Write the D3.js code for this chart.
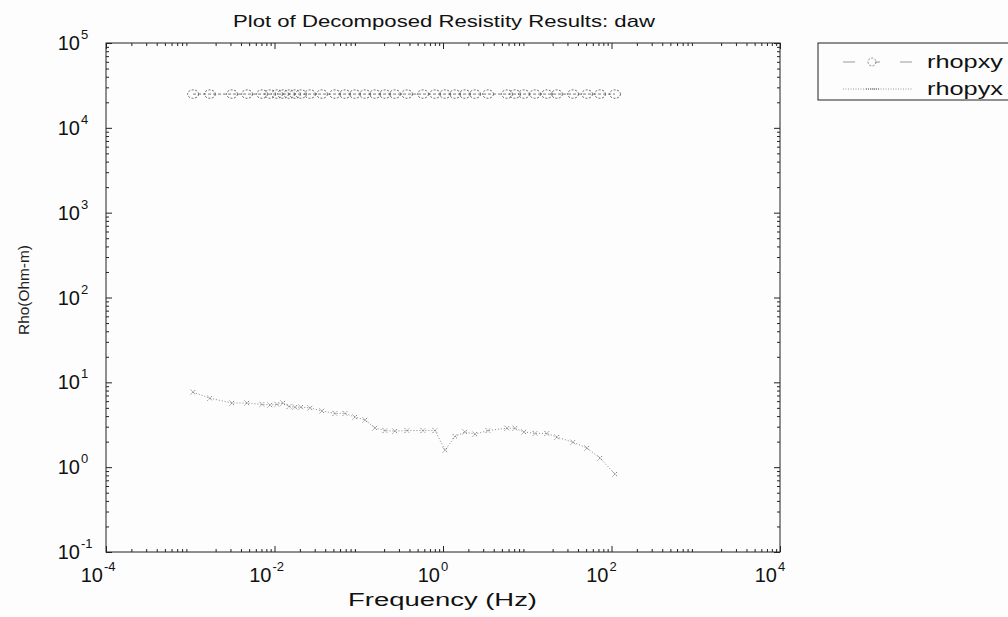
<!DOCTYPE html>
<html>
<head>
<meta charset="utf-8">
<script src="https://cdn.jsdelivr.net/npm/d3@7"></script>
<style>
  html, body { margin: 0; padding: 0; background: #fdfdfd; }
  svg { display: block; }
  text { font-family: "Liberation Sans", Arial, Helvetica, sans-serif; }
</style>
</head>
<body>
<svg id="chart" width="1008" height="617"></svg>
<script>
// Frequencies (Hz) of the decomposed soundings
const frequencies = [0.00108, 0.00171, 0.00313, 0.00472, 0.00711, 0.00886, 0.0107, 0.0126,
  0.0149, 0.0175, 0.0206, 0.0264, 0.0366, 0.0522, 0.0687, 0.0902, 0.119, 0.156, 0.205,
  0.269, 0.374, 0.579, 0.804, 1.06, 1.39, 1.82, 2.40, 3.42, 5.75, 7.16, 9.15, 12.4,
  17.1, 22.5, 34.9, 51.2, 73.1, 110];

// Apparent resistivity, xy component (Ohm-m)
const rhopxy = [25000, 25000, 25000, 25000, 25000, 25000, 25000, 25000, 25000, 25000,
  25000, 25000, 25000, 25000, 25000, 25000, 25000, 25000, 25000, 25000, 25000, 25000,
  25000, 25000, 25000, 25000, 25000, 25000, 25000, 25000, 25000, 25000, 25000, 25000,
  25000, 25000, 25000, 25000];

// Apparent resistivity, yx component (Ohm-m)
const rhopyx = [7.66, 6.5, 5.7, 5.7, 5.5, 5.4, 5.5, 5.7, 5.2, 5.1, 5.1, 5.0, 4.6, 4.3,
  4.3, 3.9, 3.6, 2.9, 2.7, 2.66, 2.7, 2.7, 2.7, 1.59, 2.3, 2.6, 2.45, 2.7, 2.88, 2.88,
  2.6, 2.5, 2.5, 2.26, 1.97, 1.68, 1.28, 0.83];

const xTickExps = [-4, -2, 0, 2, 4];
const yTickExps = [-1, 0, 1, 2, 3, 4, 5];
const seriesNames = ["rhopxy", "rhopyx"];

const svg = d3.select("#chart");
const margin = { left: 106, top: 43, right: 780, bottom: 552 };

const x = d3.scaleLog().domain([1e-4, 1e4]).range([margin.left, margin.right]);
const y = d3.scaleLog().domain([1e-1, 1e5]).range([margin.bottom, margin.top]);

const axisColor = "#222";
const ink = "#777";

// minor tick values for each decade
function minorTicks(lo, hi) {
  const out = [];
  for (let e = lo; e < hi; e++) {
    for (let m = 2; m <= 9; m++) out.push(m * Math.pow(10, e));
  }
  return out;
}
const xMinor = minorTicks(-4, 4);
const yMinor = minorTicks(-1, 5);

const g = svg.append("g");

// frame
g.append("rect")
  .attr("x", margin.left).attr("y", margin.top)
  .attr("width", margin.right - margin.left).attr("height", margin.bottom - margin.top)
  .attr("fill", "none").attr("stroke", axisColor).attr("stroke-width", 1);

// axes with inward ticks on all four sides
const xMajorVals = xTickExps.map(e => Math.pow(10, e));
const yMajorVals = yTickExps.map(e => Math.pow(10, e));

function drawAxis(axis, tx, ty) {
  const a = g.append("g").attr("transform", `translate(${tx},${ty})`).call(axis);
  a.select(".domain").remove();
  a.selectAll("line").attr("stroke", axisColor).attr("stroke-width", 1);
}
drawAxis(d3.axisBottom(x).tickValues(xMajorVals).tickSize(-6).tickFormat(""), 0, margin.bottom);
drawAxis(d3.axisTop(x).tickValues(xMajorVals).tickSize(-6).tickFormat(""), 0, margin.top);
drawAxis(d3.axisBottom(x).tickValues(xMinor).tickSize(-3).tickFormat(""), 0, margin.bottom);
drawAxis(d3.axisTop(x).tickValues(xMinor).tickSize(-3).tickFormat(""), 0, margin.top);
drawAxis(d3.axisLeft(y).tickValues(yMajorVals).tickSize(-6).tickFormat(""), margin.left, 0);
drawAxis(d3.axisRight(y).tickValues(yMajorVals).tickSize(-6).tickFormat(""), margin.right, 0);
drawAxis(d3.axisLeft(y).tickValues(yMinor).tickSize(-3).tickFormat(""), margin.left, 0);
drawAxis(d3.axisRight(y).tickValues(yMinor).tickSize(-3).tickFormat(""), margin.right, 0);

// power-of-ten label: "10" ending at bx, exponent raised after it
function powerLabel(bx, by, e) {
  g.append("text")
    .attr("x", bx).attr("y", by)
    .attr("text-anchor", "end")
    .attr("font-size", 20).attr("fill", "#111")
    .text("10");
  g.append("text")
    .attr("x", bx + 1).attr("y", by - 11)
    .attr("text-anchor", "start")
    .attr("font-size", 13).attr("fill", "#111")
    .text(String(e));
}

xTickExps.forEach(e => powerLabel(x(Math.pow(10, e)) - 3, 582, e));
yTickExps.forEach(e => powerLabel(80, y(Math.pow(10, e)) + 7, e));

// titles
svg.append("text")
  .attr("x", 233).attr("y", 27)
  .attr("font-size", 17).attr("fill", "#111")
  .attr("textLength", 422).attr("lengthAdjust", "spacingAndGlyphs")
  .text("Plot of Decomposed Resistity Results: daw");

svg.append("text")
  .attr("x", 348).attr("y", 606)
  .attr("font-size", 18).attr("fill", "#111")
  .attr("textLength", 189).attr("lengthAdjust", "spacingAndGlyphs")
  .text("Frequency (Hz)");

svg.append("text")
  .attr("transform", "translate(29,335) rotate(-90)")
  .attr("font-size", 15).attr("fill", "#222")
  .attr("textLength", 90).attr("lengthAdjust", "spacingAndGlyphs")
  .text("Rho(Ohm-m)");

// data series
const xyData = frequencies.map((f, i) => ({ f, v: rhopxy[i] }));
const yxData = frequencies.map((f, i) => ({ f, v: rhopyx[i] }));

const line = d3.line().x(d => x(d.f)).y(d => y(d.v));

const plot = svg.append("g");

plot.append("path")
  .datum(xyData)
  .attr("d", line)
  .attr("fill", "none")
  .attr("stroke", ink)
  .attr("stroke-width", 1)
  .attr("stroke-dasharray", "3,2");

plot.selectAll("ellipse.xy")
  .data(xyData)
  .join("ellipse")
  .attr("class", "xy")
  .attr("cx", d => x(d.f))
  .attr("cy", d => y(d.v))
  .attr("rx", 5.5).attr("ry", 4.2)
  .attr("fill", "none")
  .attr("stroke", "#666")
  .attr("stroke-width", 1)
  .attr("stroke-dasharray", "2,1.5");

plot.append("path")
  .datum(yxData)
  .attr("d", line)
  .attr("fill", "none")
  .attr("stroke", "#888")
  .attr("stroke-width", 1)
  .attr("stroke-dasharray", "1,2");

const xs = 2.5;
plot.selectAll("path.yx")
  .data(yxData)
  .join("path")
  .attr("class", "yx")
  .attr("d", d => {
    const cx = x(d.f), cy = y(d.v);
    return `M${cx - xs},${cy - xs}L${cx + xs},${cy + xs}M${cx - xs},${cy + xs}L${cx + xs},${cy - xs}`;
  })
  .attr("fill", "none")
  .attr("stroke", "#777")
  .attr("stroke-width", 0.9)
  .attr("stroke-dasharray", "1.5,1");

// legend
const legend = svg.append("g");
legend.append("rect")
  .attr("x", 818).attr("y", 43)
  .attr("width", 200).attr("height", 57)
  .attr("fill", "none").attr("stroke", axisColor).attr("stroke-width", 1);

const legendRows = [62, 89];
seriesNames.forEach((name, i) => {
  const ly = legendRows[i];
  legend.append("line")
    .attr("x1", 843).attr("x2", 912)
    .attr("y1", ly).attr("y2", ly)
    .attr("stroke", "#999").attr("stroke-width", 1)
    .attr("stroke-dasharray", i === 0 ? "12,20,5,20" : "1,1.5");
  if (i === 0) {
    legend.append("ellipse")
      .attr("cx", 872).attr("cy", ly).attr("rx", 4).attr("ry", 4)
      .attr("fill", "none").attr("stroke", "#888").attr("stroke-dasharray", "2,1.5");
  } else {
    legend.append("line")
      .attr("x1", 866).attr("x2", 880).attr("y1", ly).attr("y2", ly)
      .attr("stroke", "#888").attr("stroke-width", 1.5).attr("stroke-dasharray", "1,1");
  }
  legend.append("text")
    .attr("x", 927).attr("y", ly + 6)
    .attr("font-size", 18).attr("fill", "#111")
    .attr("textLength", 76).attr("lengthAdjust", "spacingAndGlyphs")
    .text(name);
});
</script>
</body>
</html>
